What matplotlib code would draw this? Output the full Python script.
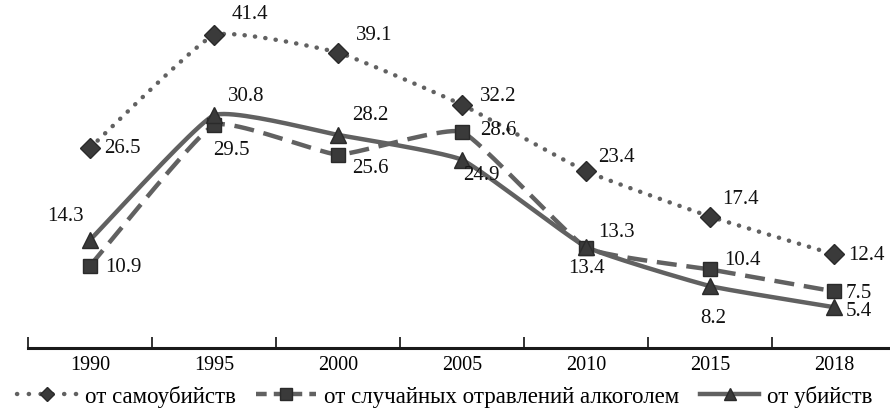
import numpy as np
import matplotlib
matplotlib.use("Agg")
import matplotlib.pyplot as plt
from matplotlib.lines import Line2D

years = ["1990", "1995", "2000", "2005", "2010", "2015", "2018"]
suicide = [26.5, 41.4, 39.1, 32.2, 23.4, 17.4, 12.4]
alcohol = [10.9, 29.5, 25.6, 28.6, 13.3, 10.4, 7.5]
murder = [14.3, 30.8, 28.2, 24.9, 13.4, 8.2, 5.4]
names = ["от самоубийств", "от случайных отравлений алкоголем", "от убийств"]

# label offsets in pixels (dx, dy, ha)
off_s = [(14, 0, "left"), (18, 22, "left"), (18, 18, "left"), (18, 9, "left"),
         (12, 15, "left"), (12, 18, "left"), (14, 0, "left")]
off_a = [(15, -1, "left"), (17, -24, "center"), (14, -13, "left"), (18, 2, "left"),
         (12, 16, "left"), (14, 10, "left"), (12, -1, "left")]
off_m = [(-6, 24, "right"), (14, 20, "left"), (14, 20, "left"), (19, -15, "center"),
         (0, -21, "center"), (3, -31, "center"), (12, -3, "left")]

plt.rcParams["font.family"] = ["Liberation Serif", "DejaVu Serif"]
plt.rcParams["font.size"] = 15

fig = plt.figure(figsize=(8.9, 4.1), dpi=100)
ax = fig.add_axes([28 / 890, 61 / 410, 868 / 890, 340 / 410])

x = np.arange(len(years))


def smooth(xs, ys, n=24, k=0.4):
    """Draw a gently smoothed path through the given points (rendering only)."""
    P = np.column_stack([np.asarray(xs, float), np.asarray(ys, float)])
    m = np.zeros_like(P)
    m[1:-1] = (P[2:] - P[:-2]) / 2 * k
    m[0] = (P[1] - P[0]) * k
    m[-1] = (P[-1] - P[-2]) * k
    out = []
    t = np.linspace(0, 1, n)[:, None]
    h00 = 2 * t**3 - 3 * t**2 + 1
    h10 = t**3 - 2 * t**2 + t
    h01 = -2 * t**3 + 3 * t**2
    h11 = t**3 - t**2
    for i in range(len(P) - 1):
        seg = h00 * P[i] + h10 * m[i] + h01 * P[i + 1] + h11 * m[i + 1]
        out.append(seg if i == 0 else seg[1:])
    out = np.vstack(out)
    return out[:, 0], out[:, 1]


lc = "#616161"
mc = "#3a3a3a"
ec = "#2a2a2a"
lw = 3.2
dotted = (0, (0.05, 2.3))

sx, sy = smooth(x, suicide)
ax.plot(sx, sy, color=lc, lw=lw, linestyle=dotted, dash_capstyle="round", zorder=2)
ax.plot(x, suicide, linestyle="none", marker="D", ms=10, color=mc, mec=ec, zorder=4)

axx, ayy = smooth(x, alcohol)
ax.plot(axx, ayy, color=lc, lw=lw, linestyle=(0, (4.5, 2.2)), zorder=2)
ax.plot(x, alcohol, linestyle="none", marker="s", ms=10.5, color=mc, mec=ec, zorder=4)

mx, my = smooth(x, murder)
ax.plot(mx, my, color=lc, lw=lw, linestyle="-", zorder=2)
ax.plot(x, murder, linestyle="none", marker="^", ms=11.5, color=mc, mec=ec, zorder=5)

for vals, offs in ((suicide, off_s), (alcohol, off_a), (murder, off_m)):
    for xi, v, (dx, dy, ha) in zip(x, vals, offs):
        ax.annotate(f"{v:.1f}", (xi, v), xytext=(dx, dy), textcoords="offset pixels",
                    ha=ha, va="center", fontsize=15, color="#111111", zorder=6)

ax.set_xlim(-0.5, len(years) - 0.5)
ax.set_ylim(0, 45)
ax.set_xticks(x)
ax.set_xticklabels(years)
ax.set_xticks(np.arange(-0.5, len(years), 1.0), minor=True)
ax.tick_params(axis="x", which="major", length=0, pad=5, labelsize=14.5)
ax.tick_params(axis="x", which="minor", direction="in", length=8, width=1.3, color="#222222")
ax.set_yticks([])
for s in ("left", "right", "top"):
    ax.spines[s].set_visible(False)
ax.spines["bottom"].set_linewidth(2.2)
ax.spines["bottom"].set_color("#1a1a1a")
ax.patch.set_alpha(0)

handles = [
    Line2D([], [], color=lc, lw=lw, linestyle=(0, (0.05, 2.6)), dash_capstyle="round",
           marker="D", ms=7.5, mfc=mc, mec=ec),
    Line2D([], [], color=lc, lw=lw, linestyle=(0, (2.4, 1.6)),
           marker="s", ms=8, mfc=mc, mec=ec),
    Line2D([], [], color=lc, lw=lw, linestyle="-",
           marker="^", ms=8.5, mfc=mc, mec=ec),
]
fig.legend(handles, names, loc="lower center", bbox_to_anchor=(0.5, 0.0), ncol=3,
           frameon=False, handlelength=2.6, handletextpad=0.35, columnspacing=0.9,
           fontsize=16.5, borderpad=0.1, borderaxespad=0.0)

fig.savefig("out.png", dpi=100)
